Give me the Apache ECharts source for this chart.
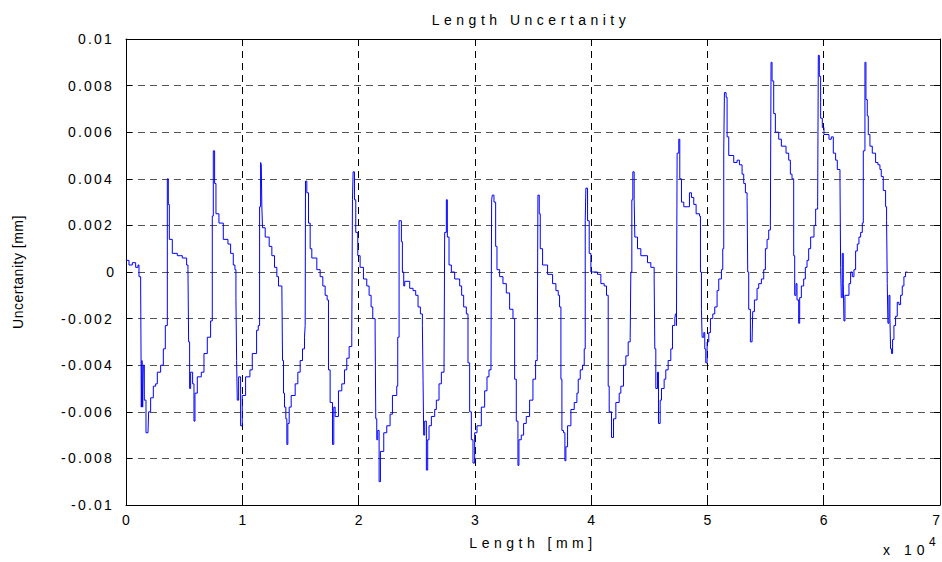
<!DOCTYPE html>
<html>
<head>
<meta charset="utf-8">
<script src="https://cdn.jsdelivr.net/npm/echarts@6/dist/echarts.min.js"></script>
<style>
  html, body { margin: 0; padding: 0; background: #fff; }
  #chart { width: 942px; height: 562px; }
  #chart text { letter-spacing: 2.2px; }
</style>
</head>
<body>
<div id="chart"></div>
<script>
// Position along the measured length [mm]
const lengthMm = [
  0, 258, 544, 831, 1031, 1117, 1261, 1318, 1375, 1433, 1490, 1576, 1719, 1891, 1948, 2120, 2349, 2550, 2693, 2980,
  3209, 3381, 3553, 3639, 3725, 3982, 4412, 4842, 5214, 5329, 5386, 5472, 5558, 5730, 5845, 5931, 6131, 6475, 6704, 6991,
  7277, 7420, 7506, 7621, 7736, 7993, 8366, 8767, 8996, 9225, 9368, 9454, 9512, 9569, 9684, 9856, 9999, 10285, 10658, 10858,
  11231, 11374, 11489, 11575, 11632, 11684, 11741, 11970, 12314, 12543, 12772, 12973, 13116, 13402, 13460, 13546, 13632, 13746, 13832, 13918,
  14032, 14204, 14548, 14777, 14978, 15178, 15350, 15407, 15436, 15550, 15694, 15837, 15980, 16410, 16696, 16925, 17126, 17297, 17412, 17555,
  17756, 17870, 17985, 18271, 18558, 18787, 18987, 19188, 19417, 19474, 19531, 19646, 19760, 19932, 20133, 20419, 20706, 20906, 21078, 21221,
  21422, 21479, 21565, 21651, 21765, 21880, 22166, 22424, 22710, 22911, 23283, 23369, 23484, 23539, 23682, 23768, 23883, 23969, 24398, 24685,
  24914, 25114, 25315, 25487, 25544, 25601, 25687, 25830, 25945, 26059, 26260, 26546, 26689, 26919, 27119, 27348, 27405, 27549, 27635, 27778,
  27978, 28265, 28694, 28866, 29038, 29267, 29410, 29553, 29697, 29840, 29983, 30183, 30556, 30842, 31043, 31215, 31386, 31444, 31501, 31644,
  31788, 31902, 32131, 32417, 32704, 32990, 33277, 33420, 33563, 33706, 33792, 33992, 34193, 34422, 34708, 34995, 35224, 35367, 35424, 35481,
  35538, 35624, 35825, 36254, 36684, 36970, 37171, 37285, 37400, 37486, 37629, 37743, 37829, 37973, 38259, 38545, 38775, 38889, 39061, 39261,
  39405, 39491, 39548, 39691, 39834, 39977, 40550, 40836, 41123, 41323, 41467, 41553, 41753, 41925, 42125, 42412, 42555, 42784, 42985, 43185,
  43357, 43414, 43500, 43586, 43700, 43758, 43987, 44273, 44846, 45133, 45419, 45476, 45562, 45705, 45791, 45935, 46049, 46278, 46421, 46622,
  46851, 46994, 47195, 47251, 47337, 47394, 47537, 47623, 47767, 47967, 48253, 48454, 48626, 48826, 49027, 49313, 49399, 49485, 49542, 49685,
  49771, 49857, 49972, 50115, 50258, 50459, 50631, 50831, 50974, 51203, 51318, 51404, 51461, 51604, 51690, 51833, 52263, 52549, 52750, 52979,
  53122, 53265, 53409, 53466, 53552, 53695, 53838, 53895, 54039, 54268, 54411, 54640, 54841, 54984, 55127, 55271, 55414, 55471, 55557, 55700,
  55843, 56130, 56358, 56759, 56988, 57132, 57275, 57418, 57504, 57618, 57704, 57848, 57933, 58077, 58277, 58420, 58564, 58707, 58877, 59164,
  59307, 59479, 59536, 59622, 59737, 59880, 60023, 60453, 60653, 60825, 61025, 61169, 61398, 61455, 61512, 61598, 61684, 61741, 61827, 62171,
  62314, 62457, 62601, 62744, 62887, 63030, 63174, 63317, 63403, 63546, 63632, 63746, 63832, 63975, 64176, 64462, 64663, 64835, 64949, 65121,
  65322, 65407, 65465, 65522, 65608, 65694, 65751, 65837, 65923, 66038, 66181, 66324, 66467, 66610, 66754, 66897, 67040, 67183
];

// Length uncertainty at each position [mm]
const uncertaintyMm = [
  0.0005, 0.0003, 0.0004, 0.0002, 0.0003, -0.0002, -0.0006, -0.0058, -0.0038, -0.0058, -0.0040, -0.0055, -0.0069, -0.0069, -0.0060, -0.0054, -0.0049, -0.0048, -0.0043, -0.0040,
  -0.0033, -0.0023, 0.0040, 0.0029, 0.0014, 0.0008, 0.0007, 0.0006, 0.0003, 0.0001, -0.0030, -0.0050, -0.0043, -0.0048, -0.0064, -0.0052, -0.0045, -0.0043, -0.0035, -0.0028,
  -0.0021, 0.0024, 0.0052, 0.0038, 0.0025, 0.0021, 0.0014, 0.0012, 0.0008, 0.0003, 0.0001, -0.0011, -0.0038, -0.0055, -0.0045, -0.0066, -0.0053, -0.0045, -0.0042, -0.0035,
  -0.0025, -0.0023, 0.0028, 0.0047, 0.0046, 0.0028, 0.0019, 0.0015, 0.0011, 0.0007, 0.0002, -0.0002, -0.0006, -0.0006, -0.0038, -0.0052, -0.0058, -0.0063, -0.0074, -0.0065,
  -0.0058, -0.0053, -0.0048, -0.0043, -0.0038, -0.0033, -0.0028, -0.0023, 0.0039, 0.0034, 0.0021, 0.0010, 0.0006, 0.0001, -0.0002, -0.0006, -0.0010, -0.0012, -0.0042, -0.0056,
  -0.0074, -0.0058, -0.0062, -0.0051, -0.0048, -0.0042, -0.0037, -0.0032, -0.0026, 0.0031, 0.0043, 0.0031, 0.0017, 0.0007, 0.0002, -0.0003, -0.0006, -0.0010, -0.0015, -0.0020,
  -0.0024, -0.0063, -0.0072, -0.0068, -0.0090, -0.0077, -0.0069, -0.0066, -0.0061, -0.0053, -0.0049, -0.0028, 0.0022, 0.0022, 0.0013, 0.0000, -0.0006, -0.0004, -0.0007, -0.0008,
  -0.0010, -0.0015, -0.0018, -0.0023, -0.0046, -0.0070, -0.0064, -0.0085, -0.0072, -0.0066, -0.0062, -0.0059, -0.0055, -0.0048, -0.0043, -0.0041, 0.0017, 0.0031, 0.0015, 0.0003,
  0.0000, -0.0003, -0.0006, -0.0010, -0.0015, -0.0018, -0.0039, -0.0060, -0.0072, -0.0082, -0.0069, -0.0066, -0.0058, -0.0051, -0.0045, -0.0042, -0.0036, 0.0031, 0.0033, 0.0030,
  0.0011, 0.0001, -0.0002, -0.0005, -0.0009, -0.0016, -0.0020, -0.0046, -0.0064, -0.0083, -0.0072, -0.0070, -0.0065, -0.0062, -0.0055, -0.0046, -0.0038, -0.0035, 0.0033, 0.0033,
  0.0025, 0.0010, 0.0003, -0.0001, -0.0005, -0.0008, -0.0010, -0.0015, -0.0046, -0.0068, -0.0069, -0.0081, -0.0075, -0.0066, -0.0059, -0.0056, -0.0052, -0.0046, -0.0042, -0.0040,
  -0.0033, 0.0022, 0.0036, 0.0022, 0.0008, 0.0000, -0.0001, -0.0005, -0.0006, -0.0010, -0.0049, -0.0060, -0.0071, -0.0063, -0.0056, -0.0052, -0.0049, -0.0040, -0.0036, -0.0030,
  -0.0028, 0.0000, 0.0031, 0.0043, 0.0031, 0.0015, 0.0010, 0.0007, 0.0004, 0.0002, -0.0003, -0.0033, -0.0050, -0.0043, -0.0065, -0.0055, -0.0050, -0.0046, -0.0042, -0.0038,
  -0.0033, -0.0023, -0.0020, -0.0018, -0.0023, 0.0051, 0.0057, 0.0040, 0.0030, 0.0028, 0.0028, 0.0034, 0.0032, 0.0029, 0.0025, 0.0024, 0.0000, -0.0016, -0.0028, -0.0026,
  -0.0033, -0.0039, -0.0030, -0.0026, -0.0020, -0.0018, -0.0015, -0.0008, -0.0003, 0.0001, 0.0010, 0.0052, 0.0077, 0.0075, 0.0058, 0.0050, 0.0047, 0.0048, 0.0046, 0.0042,
  0.0038, 0.0034, 0.0032, 0.0000, -0.0016, -0.0030, -0.0030, -0.0017, -0.0012, -0.0007, -0.0005, -0.0003, 0.0001, 0.0010, 0.0014, 0.0018, 0.0021, 0.0090, 0.0082, 0.0068,
  0.0060, 0.0057, 0.0054, 0.0051, 0.0048, 0.0042, 0.0040, 0.0007, -0.0010, -0.0005, -0.0012, -0.0022, -0.0011, -0.0006, -0.0003, 0.0002, 0.0005, 0.0010, 0.0015, 0.0020,
  0.0027, 0.0028, 0.0093, 0.0084, 0.0066, 0.0062, 0.0059, 0.0057, 0.0058, 0.0051, 0.0048, 0.0044, 0.0040, 0.0002, -0.0011, 0.0008, -0.0005, -0.0021, -0.0010, -0.0005,
  0.0000, -0.0002, 0.0001, 0.0009, 0.0012, 0.0015, 0.0017, 0.0021, 0.0052, 0.0090, 0.0074, 0.0067, 0.0059, 0.0054, 0.0051, 0.0047, 0.0046, 0.0044, 0.0041, 0.0035,
  0.0028, 0.0022, -0.0005, -0.0022, -0.0010, -0.0020, -0.0033, -0.0035, -0.0029, -0.0023, -0.0019, -0.0013, -0.0014, -0.0010, -0.0006, -0.0002, 0.0000, 0.0000
];

const xTickLabels = ['0', '1', '2', '3', '4', '5', '6', '7'];
const yTickLabels = ['-0.01', '-0.008', '-0.006', '-0.004', '-0.002', '0', '0.002', '0.004', '0.006', '0.008', '0.01'];

const FONT = "'Liberation Sans', Arial, Helvetica, sans-serif";

const points = lengthMm.map((x, i) => [x, uncertaintyMm[i]]);

const dom = document.getElementById('chart');
const chart = echarts.init(dom, null, { renderer: 'svg', width: 942, height: 562 });

const boxAxisLine = { show: true, onZero: false, lineStyle: { color: '#000', width: 1 } };
const inTick = { show: true, inside: true, length: 6, lineStyle: { color: '#000', width: 1 } };

chart.setOption({
  animation: false,
  backgroundColor: '#fff',
  title: {
    text: 'Length Uncertanity',
    left: 526,
    top: 8,
    textAlign: 'center',
    textStyle: { fontFamily: FONT, fontSize: 14, fontWeight: 'normal', color: '#000' }
  },
  grid: { left: 126, right: 2, top: 39, bottom: 57, containLabel: false, outerBoundsMode: 'none' },
  xAxis: [
    {
      type: 'value', min: 0, max: 70000, interval: 10000,
      name: 'Length [mm]', nameLocation: 'middle', nameGap: 31,
      nameTextStyle: { fontFamily: FONT, fontSize: 14, color: '#000' },
      axisLine: boxAxisLine, axisTick: inTick,
      axisLabel: {
        color: '#000', fontFamily: FONT, fontSize: 14, margin: 8,
        alignMaxLabel: 'right',
        formatter: v => xTickLabels[Math.round(v / 10000)]
      },
      splitLine: { show: true, lineStyle: { color: '#000', type: [7, 5], width: 1 } }
    },
    {
      type: 'value', min: 0, max: 70000, interval: 10000, position: 'top',
      axisLine: boxAxisLine, axisTick: inTick, axisLabel: { show: false }, splitLine: { show: false }
    }
  ],
  yAxis: [
    {
      type: 'value', min: -0.01, max: 0.01, interval: 0.002,
      name: 'Uncertanity [mm]', nameLocation: 'middle', nameGap: 101, nameRotate: 90,
      nameTextStyle: { fontFamily: FONT, fontSize: 14, color: '#000' },
      axisLine: boxAxisLine, axisTick: inTick,
      axisLabel: {
        color: '#000', fontFamily: FONT, fontSize: 14, margin: 12,
        formatter: v => yTickLabels[Math.round((v + 0.01) / 0.002)]
      },
      splitLine: { show: true, lineStyle: { color: '#555', type: [7, 5], width: 1 } }
    },
    {
      type: 'value', min: -0.01, max: 0.01, interval: 0.002, position: 'right',
      axisLine: boxAxisLine, axisTick: inTick, axisLabel: { show: false }, splitLine: { show: false }
    }
  ],
  graphic: [
    { type: 'text', left: 883, top: 543, style: { text: 'x 10', fontFamily: FONT, fontSize: 14, fill: '#000' } },
    { type: 'text', left: 929, top: 536, style: { text: '4', fontFamily: FONT, fontSize: 12, fill: '#000' } }
  ],
  series: [
    {
      type: 'line',
      xAxisIndex: 0, yAxisIndex: 0,
      data: points,
      step: 'end',
      showSymbol: false,
      symbol: 'none',
      lineStyle: { color: '#0000ff', width: 1 },
      silent: true
    }
  ]
});

// MATLAB-style wide letter spacing for the title and axis caption
function spaceLabels() {
  dom.querySelectorAll('text').forEach(t => {
    const s = t.textContent;
    if (s === 'Length Uncertanity' || s === 'Length [mm]') t.style.letterSpacing = '4.5px';
    else if (s === 'Uncertanity [mm]') t.style.letterSpacing = '0.5px';
    else if (s === 'x 10') t.style.letterSpacing = '5px';
    else if (s.length === 1) t.style.letterSpacing = '0px';
  });
}
chart.on('finished', spaceLabels);
spaceLabels();
</script>
</body>
</html>
